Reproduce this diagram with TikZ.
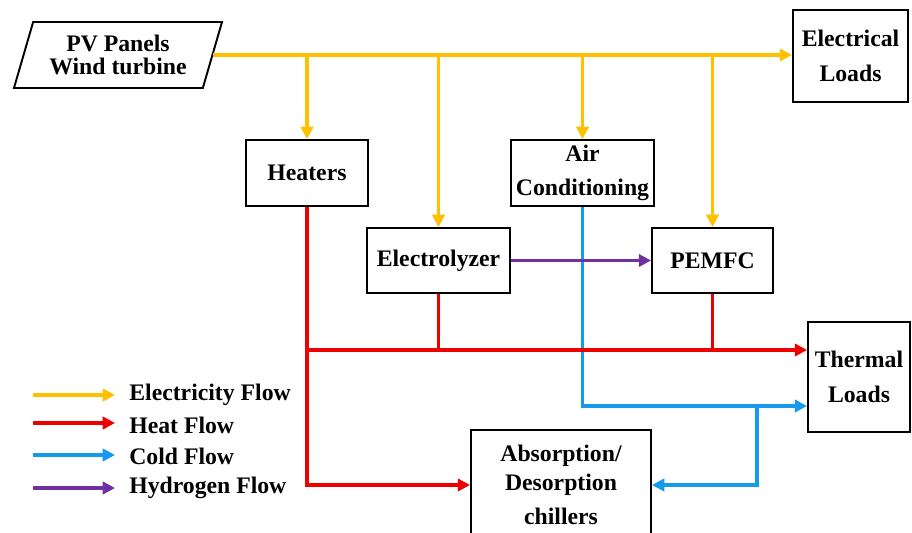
\documentclass[tikz,border=0pt]{standalone}
\usepackage{fontspec}
\setmainfont{Liberation Serif}
\usepackage{xcolor}
\definecolor{elec}{RGB}{255,192,0}
\definecolor{heat}{RGB}{238,0,0}
\definecolor{cold}{RGB}{20,155,240}
\definecolor{hydro}{RGB}{112,48,160}
\usetikzlibrary{shapes.geometric}
\usetikzlibrary{arrows.meta}

\begin{document}
\begin{tikzpicture}[x=0.02cm, y=-0.02cm,
			>={Triangle[length=7pt,width=7pt]},
			box/.style={draw, line width=1.1pt, align=center, inner sep=2pt,
				font=\bfseries\fontsize{13.5}{19.5}\selectfont},
			elecline/.style={draw=elec, line width=1.8pt},
			heatline/.style={draw=heat, line width=1.8pt},
			coldline/.style={draw=cold, line width=1.8pt},
			hydroline/.style={draw=hydro, line width=1.8pt},
			]
			\tikzset{legend/.style={anchor=west, inner sep=0pt, font=\bfseries\fontsize{13.5}{16}\selectfont}}
			\useasboundingbox (0,0) rectangle (912,533);
			% sources and loads
			\node [box, trapezium, trapezium left angle=72, trapezium right angle=108,
				trapezium stretches=true, inner xsep=0pt,
				minimum width=4.18cm, minimum height=1.32cm,
				font=\bfseries\fontsize{13.5}{13.6}\selectfont] (pv) at (118,55) {PV Panels\\Wind turbine};
			\node [box, minimum width=2.3cm, minimum height=1.84cm] (eload) at (850.5,56) {Electrical\\Loads};
			\node [box, minimum width=2.04cm, minimum height=2.2cm] (tload) at (859,377) {Thermal\\Loads};
			% devices
			\node [box, minimum width=2.44cm, minimum height=1.32cm] (heater) at (307,173) {Heaters};
			\node [box, minimum width=2.86cm, minimum height=1.32cm] (ac) at (582.5,173) {Air\\Conditioning};
			\node [box, minimum width=2.86cm, minimum height=1.3cm] (ely) at (438.5,260.5) {Electrolyzer};
			\node [box, minimum width=2.42cm, minimum height=1.3cm] (pemfc) at (712.5,260.5) {PEMFC};
			\node [box, minimum width=3.6cm, minimum height=2.2cm] (chiller) at (561,485) {Absorption/\\[-3pt]Desorption\\chillers};
			% junctions
			\coordinate (hj) at (heater.south |- 0,350);
			\coordinate (cj) at (ac.south |- 0,406);
			\coordinate (cb) at (757,406);
			% cold flow
			\draw [coldline, ->] (ac.south) |- (tload.west |- cj);
			\draw [coldline, ->] (cb) |- (chiller.east);
			% hydrogen flow
			\draw [hydroline, ->] (ely.east) -- (pemfc.west);
			% heat flow
			\draw [heatline, ->] (heater.south) |- (chiller.west);
			\draw [heatline, ->] (hj) -- (tload.west |- hj);
			\draw [heatline] (ely.south) -- (ely.south |- hj);
			\draw [heatline] (pemfc.south) -- (pemfc.south |- hj);
			% electricity flow
			\draw [elecline, ->] (pv.east) -- (pv.east -| eload.west);
			\draw [elecline, ->] (heater.north |- pv.east) -- (heater.north);
			\draw [elecline, ->] (ely.north |- pv.east) -- (ely.north);
			\draw [elecline, ->] (ac.north |- pv.east) -- (ac.north);
			\draw [elecline, ->] (pemfc.north |- pv.east) -- (pemfc.north);
			% legend
			\node [legend] (lelec) at (129,395) {Electricity Flow};
			\node [legend] (lheat) at (129,425) {Heat Flow};
			\node [legend] (lcold) at (129,456) {Cold Flow};
			\node [legend] (lhydro) at (129,488) {Hydrogen Flow};
			\coordinate (la) at (33,395);
			\coordinate (lb) at (33,423);
			\coordinate (lc) at (33,455);
			\coordinate (ld) at (33,488);
			\draw [elecline, ->] (la) -- ([xshift=-0.28cm]la -| lelec.west);
			\draw [heatline, ->] (lb) -- ([xshift=-0.28cm]lb -| lheat.west);
			\draw [coldline, ->] (lc) -- ([xshift=-0.28cm]lc -| lcold.west);
			\draw [hydroline, ->] (ld) -- ([xshift=-0.28cm]ld -| lhydro.west);
		\end{tikzpicture}
\end{document}
